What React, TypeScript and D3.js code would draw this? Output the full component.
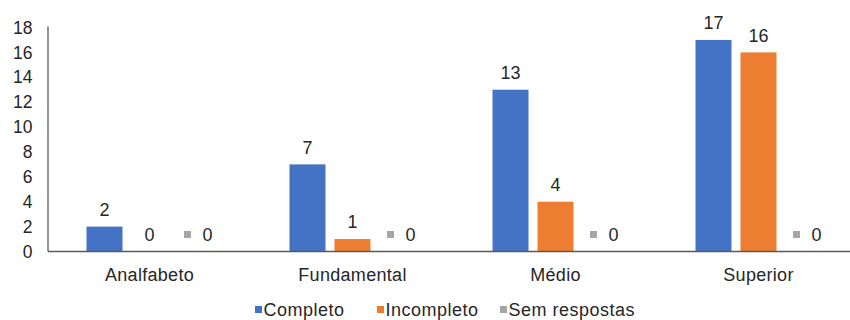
import React from "react";
import * as d3 from "d3";

const categories = ["Analfabeto", "Fundamental", "Médio", "Superior"];
const seriesNames = ["Completo", "Incompleto", "Sem respostas"];
const completo = [2, 7, 13, 17];
const incompleto = [0, 1, 4, 16];
const semRespostas = [0, 0, 0, 0];
const yTicks = [0, 2, 4, 6, 8, 10, 12, 14, 16, 18];
const colors = ["#4472C4", "#ED7D31", "#A5A5A5"];

const W = 850;
const H = 320;
const left = 48;
const right = 860;
const top = 27.5;
const bottom = 251.5;
const font = "'Liberation Sans', Arial, sans-serif";
const textColor = "#262626";

export default function App() {
  const values = [completo, incompleto, semRespostas];
  const x = d3.scaleBand<string>().domain(categories).range([left, right]);
  const inner = d3
    .scaleBand<string>()
    .domain(seriesNames)
    .range([-63, 63])
    .paddingInner(0.2);
  const y = d3.scaleLinear().domain([0, 18]).range([bottom, top]);
  const bw = inner.bandwidth();

  const legendItems = [
    { name: seriesNames[0], x: 255 },
    { name: seriesNames[1], x: 377 },
    { name: seriesNames[2], x: 500 },
  ];

  return (
    <svg
      width={W}
      height={H}
      style={{ position: "absolute", left: 0, top: 0, background: "#fff" }}
      fontFamily={font}
    >
      {/* y-axis tick labels */}
      {yTicks.map((t) => (
        <text
          key={t}
          x={32.5}
          y={y(t)}
          dy="0.35em"
          textAnchor="end"
          fontSize={17.5}
          fill={textColor}
        >
          {t}
        </text>
      ))}

      {/* bars and value labels */}
      {categories.map((c, ci) => {
        const cx = (x(c) ?? 0) + x.bandwidth() / 2;
        return (
          <g key={c}>
            {seriesNames.map((s, si) => {
              const v = values[si][ci];
              const bx = cx + (inner(s) ?? 0);
              const bc = bx + bw / 2;
              const ly = y(v) - 17;
              return (
                <g key={s}>
                  {v > 0 && (
                    <rect
                      x={bx}
                      y={y(v)}
                      width={bw}
                      height={bottom - y(v)}
                      fill={colors[si]}
                    />
                  )}
                  {si === 2 ? (
                    <g>
                      <rect
                        x={bc - 10.5}
                        y={ly - 3.5}
                        width={7}
                        height={7}
                        fill={colors[si]}
                      />
                      <text
                        x={bc + 13}
                        y={ly}
                        dy="0.35em"
                        textAnchor="middle"
                        fontSize={18}
                        fill={textColor}
                      >
                        {v}
                      </text>
                    </g>
                  ) : (
                    <text
                      x={bc}
                      y={ly}
                      dy="0.35em"
                      textAnchor="middle"
                      fontSize={18}
                      fill={textColor}
                    >
                      {v}
                    </text>
                  )}
                </g>
              );
            })}
            <text
              x={cx}
              y={281}
              textAnchor="middle"
              fontSize={18}
              letterSpacing={0.3}
              fill={textColor}
            >
              {c}
            </text>
          </g>
        );
      })}

      {/* axes */}
      <line x1={left} x2={left} y1={top - 1} y2={bottom} stroke="#595959" strokeWidth={1.3} />
      <line x1={left} x2={W} y1={bottom} y2={bottom} stroke="#595959" strokeWidth={1.3} />

      {/* legend */}
      {legendItems.map((it, i) => (
        <g key={it.name}>
          <rect x={it.x} y={306} width={7} height={7} fill={colors[i]} />
          <text
            x={it.x + 8.5}
            y={315.5}
            fontSize={18}
            letterSpacing={0.5}
            fill={textColor}
          >
            {it.name}
          </text>
        </g>
      ))}
    </svg>
  );
}
